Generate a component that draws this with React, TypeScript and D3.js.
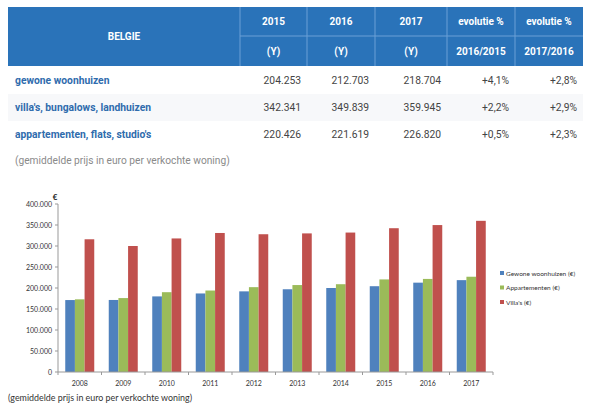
import React from "react";
import * as d3 from "d3";

const years = ["2008","2009","2010","2011","2012","2013","2014","2015","2016","2017"];
const gewone = [171300,171500,180000,187000,192000,197000,200000,204253,212703,218704];
const appartementen = [173000,176000,190000,194000,202000,207000,209000,220426,221619,226820];
const villas = [316000,300000,318000,331000,328000,330000,332000,342341,349839,359945];
const seriesNames = ["Gewone woonhuizen  (€)","Appartementen  (€)","Villa's  (€)"];
const seriesColors = ["#4f81bd","#9bbb59","#c0504d"];
const yTicks = [0,50000,100000,150000,200000,250000,300000,350000,400000];

const tableHeadTop = ["2015","2016","2017","evolutie %","evolutie %"];
const tableHeadBottom = ["(Y)","(Y)","(Y)","2016/2015","2017/2016"];
const rowLabels = ["gewone woonhuizen","villa's, bungalows, landhuizen","appartementen, flats, studio's"];
const rowValues = [
  ["204.253","212.703","218.704","+4,1%","+2,8%"],
  ["342.341","349.839","359.945","+2,2%","+2,9%"],
  ["220.426","221.619","226.820","+0,5%","+2,3%"],
];
const footnote = "(gemiddelde prijs in euro per verkochte woning)";

export default function App() {
  const colEdges = [8, 240, 307, 375, 447, 515, 583];
  const headTop = 7, headMid = 36, headBot = 66;
  const rowEdges = [67, 94, 121, 147];
  const tFont = "Roboto, 'Noto Sans', sans-serif";
  const cFont = "Lato, 'Open Sans', sans-serif";

  const left = 58, right = 493, top = 204, bottom = 372;
  const x = d3.scaleBand<string>().domain(years).range([left, right]).padding(0);
  const bw = x.bandwidth();
  const xs = d3.scaleBand<number>().domain([0,1,2]).range([0,bw]).paddingInner(0).paddingOuter(0.75);
  const y = d3.scaleLinear().domain([0,400000]).range([bottom, top]);
  const fmt = (v: number) => v === 0 ? "0" : d3.format(",")(v).replace(/,/g, ".");
  const series = [gewone, appartementen, villas];

  return (
    <svg width={591} height={409} style={{position:"absolute",left:0,top:0,background:"#fff"}}>
      {/* table header */}
      <rect x={colEdges[0]} y={headTop} width={colEdges[6]-colEdges[0]} height={headBot-headTop} fill="#2a73b9" />
      {colEdges.slice(1,6).map((cx,i)=>(
        <line key={"cv"+i} x1={cx} x2={cx} y1={headTop} y2={headBot} stroke="#6aa0d6" strokeWidth={1} />
      ))}
      <line x1={colEdges[1]} x2={colEdges[6]} y1={headMid} y2={headMid} stroke="#6aa0d6" strokeWidth={1} />
      <text x={(colEdges[0]+colEdges[1])/2} y={(headTop+headBot)/2} textAnchor="middle" dominantBaseline="central" fill="#fff" fontFamily={tFont} fontWeight={700} fontSize={10}>BELGIE</text>
      {tableHeadTop.map((t,i)=>(
        <text key={"ht"+i} x={(colEdges[i+1]+colEdges[i+2])/2} y={(headTop+headMid)/2} textAnchor="middle" dominantBaseline="central" fill="#fff" fontFamily={tFont} fontWeight={700} fontSize={10}>{t}</text>
      ))}
      {tableHeadBottom.map((t,i)=>(
        <text key={"hb"+i} x={(colEdges[i+1]+colEdges[i+2])/2} y={(headMid+headBot)/2} textAnchor="middle" dominantBaseline="central" fill="#fff" fontFamily={tFont} fontWeight={700} fontSize={10}>{t}</text>
      ))}
      {rowLabels.map((lab,r)=>(
        <g key={"row"+r}>
          {r===1 && <rect x={colEdges[0]} y={rowEdges[r]} width={colEdges[6]-colEdges[0]} height={rowEdges[r+1]-rowEdges[r]} fill="#f7f8fa" />}
          <text x={15} y={(rowEdges[r]+rowEdges[r+1])/2} dominantBaseline="central" fill="#2f6cad" fontFamily={tFont} fontWeight={700} fontSize={10.3}>{lab}</text>
          {rowValues[r].map((v,c)=>(
            <text key={c} x={colEdges[c+2]-6} y={(rowEdges[r]+rowEdges[r+1])/2} textAnchor="end" dominantBaseline="central" fill="#444" fontFamily={tFont} fontSize={10.3}>{v}</text>
          ))}
        </g>
      ))}
      <text x={15} y={160} dominantBaseline="central" fill="#8a8a8a" fontFamily={tFont} fontSize={10.2}>{footnote}</text>

      {/* chart */}
      {years.map((yr,i)=>(
        <g key={"g"+yr}>
          {series.map((s,k)=>(
            <rect key={k} x={(x(yr) as number)+(xs(k) as number)} y={y(s[i])} width={xs.bandwidth()} height={bottom-y(s[i])} fill={seriesColors[k]} />
          ))}
          <text x={(x(yr) as number)+bw/2} y={bottom+11} textAnchor="middle" dominantBaseline="central" fill="#333" fontFamily={cFont} fontSize={7}>{yr}</text>
        </g>
      ))}
      <line x1={left} x2={left} y1={top} y2={bottom} stroke="#999" />
      <line x1={left} x2={right} y1={bottom} y2={bottom} stroke="#999" />
      {yTicks.map(t=>(
        <g key={"yt"+t}>
          <line x1={left-3} x2={left} y1={y(t)} y2={y(t)} stroke="#999" />
          <text x={left-6} y={y(t)} textAnchor="end" dominantBaseline="central" fill="#333" fontFamily={cFont} fontSize={7}>{fmt(t)}</text>
        </g>
      ))}
      {years.map((yr,i)=>(
        <line key={"xt"+i} x1={(x(yr) as number)} x2={(x(yr) as number)} y1={bottom} y2={bottom+3} stroke="#999" />
      ))}
      <line x1={right} x2={right} y1={bottom} y2={bottom+3} stroke="#999" />
      <text x={55} y={197} textAnchor="middle" dominantBaseline="central" fill="#222" fontFamily={cFont} fontWeight={700} fontSize={8}>€</text>
      {seriesNames.map((n,k)=>(
        <g key={"lg"+k}>
          <rect x={500} y={271+k*14.5} width={4} height={4} fill={seriesColors[k]} />
          <text x={506} y={273+k*14.5} dominantBaseline="central" fill="#333" fontFamily={cFont} fontSize={6.5}>{n}</text>
        </g>
      ))}
      <text x={8} y={397} dominantBaseline="central" fill="#333" fontFamily={cFont} fontSize={8.9}>{footnote}</text>
    </svg>
  );
}
